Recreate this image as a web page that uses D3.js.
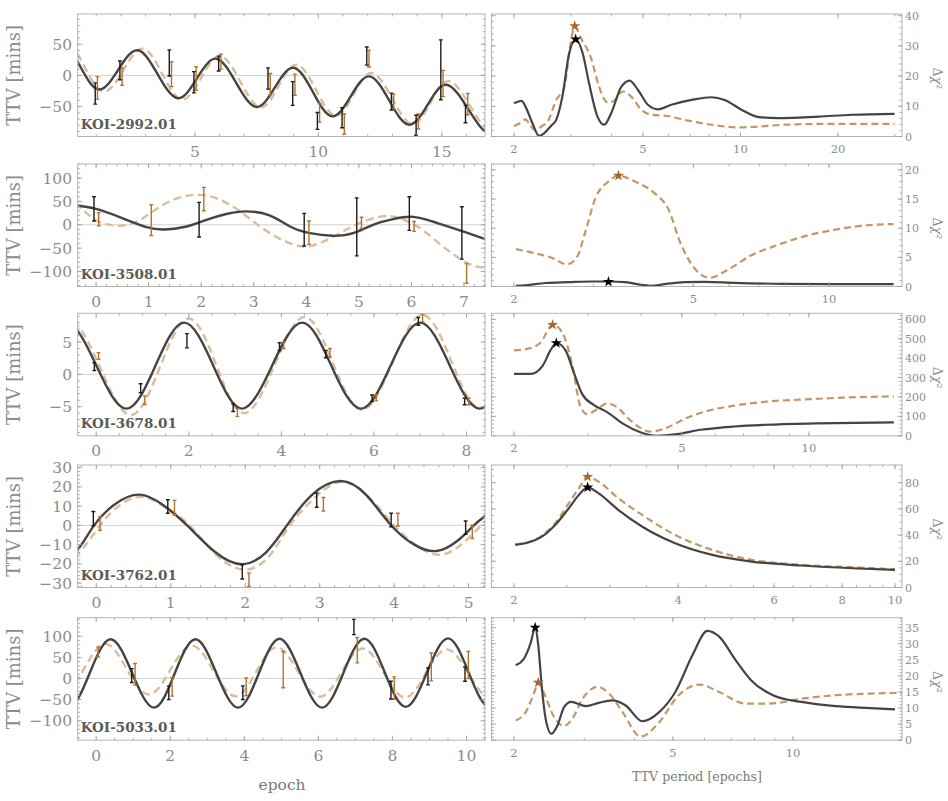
<!DOCTYPE html>
<html><head><meta charset="utf-8">
<script src="https://cdn.jsdelivr.net/npm/d3@7/dist/d3.min.js"></script>
<style>body{margin:0;background:#fff}</style>
</head><body>
<svg id="c" width="948" height="801" xmlns="http://www.w3.org/2000/svg"></svg>
<script>
// ---------------- DATA ----------------
const koiNames = ["KOI-2992.01","KOI-3508.01","KOI-3678.01","KOI-3762.01","KOI-5033.01"];

// observed TTVs [epoch, ttv(min), err]  K = black, B = brown
const obsK1 = [[1,-29,17],[2,8,15],[4,20,21],[5,-11,17],[6,19,12],[8,-5,17],[9,-29,19],[10,-73,13.5],[11,-68,16],[12,31,14.5],[13,-42,13.5],[14,-80,16],[15,9,48],[16,-62,14]];
const obsB1 = [[1,-20,18],[2,-2,14],[4,2,20],[5,-5,19],[6,22,12],[8,-14,17],[9,-15,17],[10,-60,15],[11,-78,16],[12,27,13.5],[13,-42,12],[14,-74,12],[15,-13,21],[16,-46,17]];
const obsK2 = [[0,34,26],[2,11,37],[4,-10.5,35],[5,-4.5,62],[6,24,36],[7,-17.5,56]];
const obsB2 = [[0,12,14],[1,10,33],[2,55,25],[4,-17,25],[5,4,12],[6,-3.5,10.5],[7,-104,21]];
const obsK3 = [[0,1.2,0.6],[1,-2.15,0.7],[2,5.2,1.1],[3,-5.15,0.6],[4,4.3,0.6],[5,3.15,0.57],[6,-3.7,0.5],[7,8.2,0.6],[8,-4.2,0.5]];
const obsB3 = [[0,2.85,0.52],[1,-4.0,0.65],[3,-5.9,0.6],[4,4.5,0.5],[5,3.35,0.65],[6,-3.6,0.5],[7,8.7,0.57],[8,-4.2,0.5]];
const obsK4 = [[0,3.5,3.7],[1,9.8,3.5],[2,-24.2,3.7],[3,13.1,3.7],[4,2.8,3.5],[5,-1.2,3.5]];
const obsB4 = [[0,1,3.5],[1,9.2,3.8],[2,-28.2,3.5],[3,11,3.5],[4,3,3.3],[5,-3.3,3.5]];
const obsK5 = [[1,7,16.5],[2,-34,16],[4,-33.5,16],[7,122,18],[8,-27.5,21],[9,5,20],[10,10.5,17]];
const obsB5 = [[0,63,12],[1,10,25.5],[2,-19.7,22],[4,-19.7,21],[5,21,43],[7,67,30],[8,-22.5,26.5],[9,27.5,33],[10,32,32]];

// model TTV curves [epoch, ttv]
const fitK1 = [[-1.23,23],[-0.45,54],[0.33,16],[1.10,-22.6],[1.89,8.9],[2.68,40.3],[3.49,1.9],[4.30,-36.6],[5.08,-4.9],[5.86,26.8],[6.67,-11.9],[7.48,-50.6],[8.24,-19.2],[9.0,12.3],[9.78,-26.7],[10.55,-65.6],[11.31,-33.6],[12.07,-1.6],[12.87,-40.3],[13.66,-79],[14.43,-47],[15.19,-15],[16.07,-54],[16.95,-93],[17.8,-61]];
const fitB1 = [[-1.1,22],[-0.3,57],[0.5,15.6],[1.30,-25.8],[2.10,8.6],[2.89,42.9],[3.68,2.1],[4.47,-38.7],[5.25,-3.9],[6.03,31],[6.84,-10],[7.65,-51],[8.39,-17],[9.13,17],[9.91,-23.8],[10.69,-64.5],[11.43,-30.4],[12.17,3.7],[12.99,-37.2],[13.8,-78],[14.54,-43.6],[15.28,-9.2],[16.14,-48.6],[17.0,-88],[17.85,-55]];
const fitK2 = [[-0.6,45],[-0.35,41],[0,34],[0.46,16],[0.96,-5],[1.31,-10],[1.72,-3.6],[2.1,10.7],[2.48,23],[2.85,28.6],[3.3,20],[3.69,-3.6],[4.07,-18],[4.5,-23.6],[4.89,-18],[5.27,0],[5.65,12],[6.03,17],[6.4,7],[6.79,-7],[7.39,-30],[7.6,-38]];
const fitB2 = [[-0.6,62],[-0.35,41],[-0.11,18],[0.08,5],[0.46,-2],[0.84,10.7],[1.22,39],[1.6,58.6],[1.98,64],[2.36,53.6],[2.74,28.6],[3.12,-3.6],[3.5,-30],[3.9,-46],[4.26,-39],[4.64,-18],[5.01,3.6],[5.45,18],[5.78,14],[6.16,-7],[6.54,-41],[6.9,-71],[7.23,-89],[7.6,-93]];
const fitK3 = [[-1.28,1.35],[-0.65,8.0],[0.0,1.4],[0.65,-5.3],[1.28,1.35],[1.9,8.0],[2.53,1.35],[3.15,-5.3],[3.8,1.35],[4.45,8.0],[5.08,1.35],[5.72,-5.3],[6.36,1.35],[7.0,8.0],[7.64,1.35],[8.28,-5.3],[8.9,1.35]];
const fitB3 = [[-1.25,1.1],[-0.6,8.4],[0.08,1.1],[0.75,-6.3],[1.38,1.2],[2.0,8.65],[2.6,1.3],[3.2,-6.0],[3.85,1.4],[4.5,8.9],[5.12,1.6],[5.75,-5.5],[6.4,1.8],[7.05,9.2],[7.68,1.9],[8.3,-5.3],[8.95,1.9]];
const fitK4 = [[-0.45,-17],[-0.25,-12.6],[-0.03,0],[0.25,11],[0.58,16],[0.9,10.5],[1.22,0],[1.6,-14],[1.96,-20.2],[2.28,-14],[2.56,0],[2.9,16],[3.28,23.1],[3.62,16],[3.95,0.5],[4.27,-10],[4.57,-13.3],[4.85,-8],[5.07,0],[5.22,4.8],[5.4,10]];
const fitB4 = [[-0.45,-19],[-0.25,-15.2],[0.05,0],[0.3,10],[0.6,14.8],[0.93,9.5],[1.25,0],[1.63,-16],[2.0,-23],[2.32,-16],[2.6,0],[2.95,15],[3.3,22.6],[3.65,15],[4.0,0],[4.32,-11],[4.62,-15.3],[4.9,-10],[5.17,0],[5.4,9]];
const fitK5 = [[-1.31,12],[-0.75,-69],[-0.18,12],[0.39,93],[0.975,12],[1.56,-69],[2.12,12],[2.68,93],[3.25,12],[3.83,-69],[4.39,12],[4.95,94],[5.52,12],[6.1,-69],[6.67,12],[7.24,94],[7.8,13],[8.36,-67],[8.93,14],[9.5,95],[10.06,14],[10.62,-67],[11.18,14]];
const fitB5 = [[-1.47,22],[-0.9,-36],[-0.33,23],[0.25,82],[0.83,22],[1.42,-38],[2.0,20],[2.59,78],[3.17,18],[3.76,-42],[4.32,16],[4.88,74],[5.46,15],[6.05,-43],[6.62,14],[7.2,71],[7.77,13],[8.34,-45],[8.9,12],[9.47,69],[10.06,11],[10.64,-46],[11.2,10]];

// periodograms [TTV period (epochs), delta chi^2]
const pgK1 = [[2.0,11.0],[2.11,11.8],[2.17,9.9],[2.28,4.4],[2.39,0.2],[2.48,1.1],[2.60,3.5],[2.70,5.5],[2.82,13.2],[2.96,27.5],[3.10,32.2],[3.26,27.5],[3.41,17.6],[3.62,6.6],[3.80,3.9],[3.99,7.7],[4.29,16.5],[4.55,18.5],[4.83,15.4],[5.18,10.5],[5.56,9.0],[6.12,10.5],[7.07,12.1],[8.15,13.0],[8.94,12.1],[10.1,8.8],[11.4,6.4],[13.1,6.1],[17.4,6.6],[22.1,7.2],[29.9,7.5]];
const pgB1 = [[2.0,3.5],[2.1,4.6],[2.17,5.7],[2.25,3.5],[2.31,2.2],[2.43,3.3],[2.55,5.3],[2.70,12.1],[2.86,16.3],[2.98,29.8],[3.08,36.4],[3.22,32.5],[3.46,25.9],[3.66,16.5],[3.89,11.3],[4.04,11.6],[4.34,14.9],[4.6,13.2],[4.95,8.8],[5.32,7.2],[5.97,6.8],[6.72,5.5],[8.15,3.9],[9.8,3.0],[11.4,3.3],[13.7,3.9],[19.6,4.2],[29.9,4.2]];
const pgK2 = [[2.02,0.1],[2.12,0.2],[2.35,0.6],[2.64,0.74],[2.97,0.86],[3.24,0.86],[3.53,0.74],[3.83,0.3],[4.04,0.1],[4.32,0.4],[4.78,0.74],[5.3,0.8],[6.17,0.63],[7.9,0.46],[11.1,0.4],[13.9,0.4]];
const pgB2 = [[2.02,6.4],[2.23,5.7],[2.43,4.9],[2.62,3.8],[2.76,5.1],[2.88,9.4],[3.03,15.1],[3.24,18],[3.41,19],[3.71,18],[4.1,16],[4.39,13.4],[4.70,7.1],[5.03,3.1],[5.43,1.5],[5.97,2.9],[6.7,5.3],[7.68,7.1],[8.8,8.6],[10.25,9.7],[12.1,10.5],[13.9,10.7]];
const pgK3 = [[2.0,319],[2.19,319],[2.34,362],[2.44,440],[2.52,478],[2.65,440],[2.77,328],[2.90,216],[3.09,159],[3.33,121],[3.64,60],[4.0,17],[4.37,0],[4.87,9],[5.54,31],[6.64,48],[7.92,57],[10.4,64],[15.9,69]];
const pgB3 = [[2.0,440],[2.15,448],[2.31,479],[2.47,572],[2.60,534],[2.75,362],[2.87,155],[2.98,112],[3.15,138],[3.33,167],[3.51,147],[3.78,78],[4.21,21],[4.62,43],[5.06,86],[5.76,129],[6.64,155],[7.92,176],[9.5,186],[12.5,198],[15.9,203]];
const pgK4 = [[2.01,32.5],[2.13,34.5],[2.25,38.8],[2.38,47.7],[2.52,60.4],[2.63,70.6],[2.73,76.4],[2.86,71.8],[3.11,59.1],[3.44,46.4],[3.95,33.8],[4.62,24.9],[5.46,19.8],[6.74,16.8],[8.35,14.7],[10.0,13.5]];
const pgB4 = [[2.01,33],[2.13,34.8],[2.25,39.6],[2.38,49],[2.52,64.2],[2.63,75.6],[2.73,84.5],[2.86,80.7],[3.11,68],[3.44,55.3],[3.95,40.1],[4.62,28.7],[5.46,21.1],[6.74,17.3],[8.35,15.5],[10.0,14]];
const pgK5 = [[2.02,23.3],[2.12,25.4],[2.2,30.1],[2.26,35],[2.3,29.6],[2.35,16],[2.4,6.7],[2.48,2],[2.57,4.6],[2.67,10.3],[2.78,11.9],[3.03,10.6],[3.26,11.6],[3.52,12.4],[3.81,10.8],[4.19,5.9],[4.62,8.75],[5.07,15],[5.6,26.5],[6.1,34],[6.53,32.2],[7.18,24.9],[7.86,18.6],[8.9,14],[10.5,11.9],[12.8,10.6],[15.6,10],[18.0,9.6]];
const pgB5 = [[2.02,6.1],[2.14,8.75],[2.25,15],[2.3,17.9],[2.4,13.4],[2.52,7.2],[2.67,4.4],[2.8,6.7],[2.97,12.9],[3.24,16.6],[3.46,14.5],[3.74,8.75],[4.15,1.1],[4.62,5.6],[5.17,14],[5.83,17.3],[6.53,15],[7.6,11.4],[8.7,11.4],[10.5,12.9],[12.8,14],[15.6,14.5],[18.9,14.7]];

// best-period stars [period, delta chi^2]
const starsK = [[3.10,32.2],[3.24,0.8],[2.52,478],[2.73,76.4],[2.26,35]];
const starsB = [[3.08,36.6],[3.41,19],[2.47,572],[2.73,84.5],[2.30,17.9]];

// axis ranges and ticks
const leftXDomains = [[0.25,16.75],[-0.35,7.4],[-0.4,8.4],[-0.25,5.22],[-0.5,10.5]];
const leftYDomains = [[-98,98.5],[-132,130],[-9.5,9.45],[-32.3,31.4],[-146,144]];
const leftXTicks = [[5,10,15],[0,1,2,3,4,5,6,7],[0,2,4,6,8],[0,1,2,3,4,5],[0,2,4,6,8,10]];
const leftXMinorStep = [1,0.2,0.5,0.2,0.5];
const leftYTicks = [[-50,0,50],[-100,-50,0,50,100],[-5,0,5],[-30,-20,-10,0,10,20,30],[-100,-50,0,50,100]];
const leftYMinorStep = [10,10,1,2,10];
const periodRanges = [[2,30],[2,14],[2,16],[2,10],[2,18]];
const rightXTicks = [[2,5,10,20],[2,5,10],[2,5,10],[2,4,6,8,10],[2,5,10]];
const rightYMax = [40.56,21.0,631,93.5,38.1];
const rightYTicks = [[0,10,20,30,40],[0,5,10,15,20],[0,100,200,300,400,500,600],[0,20,40,60,80],[0,5,10,15,20,25,30,35]];
const rightYMinorStep = [2,1,20,5,1];

const obsK=[obsK1,obsK2,obsK3,obsK4,obsK5], obsB=[obsB1,obsB2,obsB3,obsB4,obsB5];
const fitK=[fitK1,fitK2,fitK3,fitK4,fitK5], fitB=[fitB1,fitB2,fitB3,fitB4,fitB5];
const pgK=[pgK1,pgK2,pgK3,pgK4,pgK5], pgB=[pgB1,pgB2,pgB3,pgB4,pgB5];

// ---------------- LAYOUT / STYLE ----------------
const svg = d3.select("#c");
const rowTop = [14,164,313.3,465,617.7], PH = 122.5;
const LX0 = 77.7, LX1 = 485, RX0 = 491.5, RX1 = 902;
const SERIF = "'DejaVu Serif', serif";
const FRAME = "#b4b4b4", TICK = "#a0a0a0", LABEL = "#8c8c8c";
const BLACK = "#444", BAR_K = "#1c1c1c", BAR_B = "#b5712f", DASH_L = "#dbbd9c", DASH_R = "#c69766", STAR_B = "#a8682c";
const fmt = d3.format("");

const defs = svg.append("defs");

function drawFrame(g, x0, x1, y0, y1, xMaj, xMin, yMaj, yMin, xs, ys){
  g.append("rect").attr("x",x0).attr("y",y0).attr("width",x1-x0).attr("height",y1-y0)
    .attr("fill","none").attr("stroke",FRAME).attr("stroke-width",1);
  const t = g.append("g").attr("stroke",TICK).attr("stroke-width",0.8);
  const tk = (a,b,c,d)=>t.append("line").attr("x1",a).attr("y1",b).attr("x2",c).attr("y2",d);
  xMaj.forEach(v=>{const p=xs(v); if(p<x0||p>x1) return; tk(p,y1,p,y1-4.5); tk(p,y0,p,y0+4.5);});
  xMin.forEach(v=>{const p=xs(v); if(p<x0||p>x1) return; tk(p,y1,p,y1-2.5); tk(p,y0,p,y0+2.5);});
  yMaj.forEach(v=>{const p=ys(v); if(p<y0||p>y1) return; tk(x0,p,x0+4.5,p); tk(x1,p,x1-4.5,p);});
  yMin.forEach(v=>{const p=ys(v); if(p<y0||p>y1) return; tk(x0,p,x0+2.5,p); tk(x1,p,x1-2.5,p);});
}

function minorLin(dom, step){
  const out=[]; const s=Math.ceil(dom[0]/step-1e-9)*step;
  for(let v=s; v<=dom[1]+1e-9; v+=step) out.push(+v.toFixed(6));
  return out;
}
function minorLog(dom, fine){
  const out=[];
  for(let d=1; d<=100; d*=10){
    for(let m=1; m<10; m+= fine?0.5:1){ const v=m*d; if(v>=dom[0]*0.999 && v<=dom[1]*1.001) out.push(v);} }
  return out;
}

function errbars(g, data, xs, ys, off, color){
  const gg = g.append("g").attr("stroke",color).attr("stroke-width",1.4).attr("fill","none");
  data.forEach(([e,v,s])=>{
    const px = xs(e+off);
    gg.append("line").attr("x1",px).attr("x2",px).attr("y1",ys(v-s)).attr("y2",ys(v+s));
    [v-s,v+s].forEach(t=>gg.append("line").attr("x1",px-1.9).attr("x2",px+1.9).attr("y1",ys(t)).attr("y2",ys(t)));
  });
}

for(let i=0;i<5;i++){
  const y0=rowTop[i], y1=rowTop[i]+PH;

  // ---- left panel ----
  const xs = d3.scaleLinear().domain(leftXDomains[i]).range([LX0,LX1]);
  const ys = d3.scaleLinear().domain(leftYDomains[i]).range([y1,y0]);
  const gl = svg.append("g");
  const cid = "clipL"+i;
  defs.append("clipPath").attr("id",cid).append("rect").attr("x",LX0).attr("y",y0).attr("width",LX1-LX0).attr("height",PH);

  gl.append("line").attr("x1",LX0).attr("x2",LX1).attr("y1",ys(0)).attr("y2",ys(0))
    .attr("stroke","#d2d2d2").attr("stroke-width",1);

  const cg = gl.append("g").attr("clip-path",`url(#${cid})`);
  const lineL = d3.line().x(d=>xs(d[0])).y(d=>ys(d[1])).curve(d3.curveNatural);
  cg.append("path").attr("d",lineL(fitB[i])).attr("fill","none").attr("stroke",DASH_L)
    .attr("stroke-width",2.4).attr("stroke-dasharray","8,4.5");
  cg.append("path").attr("d",lineL(fitK[i])).attr("fill","none").attr("stroke",BLACK)
    .attr("stroke-width",2.4);
  errbars(cg, obsB[i], xs, ys, 0.05, BAR_B);
  errbars(cg, obsK[i], xs, ys, -0.04, BAR_K);

  drawFrame(gl, LX0, LX1, y0, y1, leftXTicks[i], minorLin(leftXDomains[i], leftXMinorStep[i]),
            leftYTicks[i], minorLin(leftYDomains[i], leftYMinorStep[i]), xs, ys);

  gl.append("text").attr("x",LX0+3).attr("y",y1-8).text(koiNames[i])
    .attr("font-family",SERIF).attr("font-weight","bold").attr("font-size",13.5).attr("fill","#5a5a5a");

  leftXTicks[i].forEach(v=>gl.append("text").attr("x",xs(v)).attr("y",y1+20.5).attr("text-anchor","middle")
    .attr("font-family",SERIF).attr("font-size",15.5).attr("fill",LABEL).text(fmt(v)));
  leftYTicks[i].forEach(v=>gl.append("text").attr("x",72).attr("y",ys(v)+5.5).attr("text-anchor","end")
    .attr("font-family",SERIF).attr("font-size",15.5).attr("fill",LABEL).text(fmt(v)));

  gl.append("text").attr("transform",`translate(20,${(y0+y1)/2}) rotate(-90)`).attr("text-anchor","middle")
    .attr("font-family",SERIF).attr("font-size",18).attr("fill",LABEL).text("TTV [mins]");

  // ---- right panel ----
  const px = d3.scaleLog().domain(periodRanges[i]).range([514,895]);
  const py = d3.scaleLinear().domain([0,rightYMax[i]]).range([y1,y0]);
  const gr = svg.append("g");
  const rid = "clipR"+i;
  defs.append("clipPath").attr("id",rid).append("rect").attr("x",RX0).attr("y",y0).attr("width",RX1-RX0).attr("height",PH);
  const rg = gr.append("g").attr("clip-path",`url(#${rid})`);
  const lineR = d3.line().x(d=>px(d[0])).y(d=>py(d[1])).curve(d3.curveMonotoneX);
  rg.append("path").attr("d",lineR(pgB[i])).attr("fill","none").attr("stroke",DASH_R)
    .attr("stroke-width",2.2).attr("stroke-dasharray","7,4");
  rg.append("path").attr("d",lineR(pgK[i])).attr("fill","none").attr("stroke",BLACK)
    .attr("stroke-width",2.2);
  const star = d3.symbol().type(d3.symbolStar).size(38);
  rg.append("path").attr("d",star()).attr("transform",`translate(${px(starsB[i][0])},${py(starsB[i][1])})`).attr("fill",STAR_B);
  rg.append("path").attr("d",star()).attr("transform",`translate(${px(starsK[i][0])},${py(starsK[i][1])})`).attr("fill","#000");

  drawFrame(gr, RX0, RX1, y0, y1, rightXTicks[i], minorLog(px.domain(), i===3), rightYTicks[i],
            minorLin([0,rightYMax[i]], rightYMinorStep[i]), px, py);

  rightXTicks[i].forEach(v=>gr.append("text").attr("x",px(v)).attr("y",y1+16.5).attr("text-anchor","middle")
    .attr("font-family",SERIF).attr("font-size",11.5).attr("fill",LABEL).text(fmt(v)));
  rightYTicks[i].forEach(v=>gr.append("text").attr("x",905).attr("y",py(v)+4).attr("text-anchor","start")
    .attr("font-family",SERIF).attr("font-size",11).attr("fill",LABEL).text(fmt(v)));

  const dl = gr.append("text").attr("transform",`translate(932.5,${(y0+y1)/2+3}) rotate(90)`).attr("text-anchor","middle")
    .attr("font-family",SERIF).attr("font-size",12.5).attr("fill",LABEL);
  dl.append("tspan").text("Δ");
  dl.append("tspan").attr("font-style","italic").text("χ");
  dl.append("tspan").attr("font-size",8).attr("dy",-4.5).text("2");
}

svg.append("text").attr("x",282).attr("y",790).attr("text-anchor","middle")
  .attr("font-family",SERIF).attr("font-size",15.5).attr("fill","#7a7a7a").text("epoch");
svg.append("text").attr("x",697).attr("y",781).attr("text-anchor","middle")
  .attr("font-family",SERIF).attr("font-size",12.6).attr("fill","#7a7a7a").text("TTV period [epochs]");
</script>
</body></html>
